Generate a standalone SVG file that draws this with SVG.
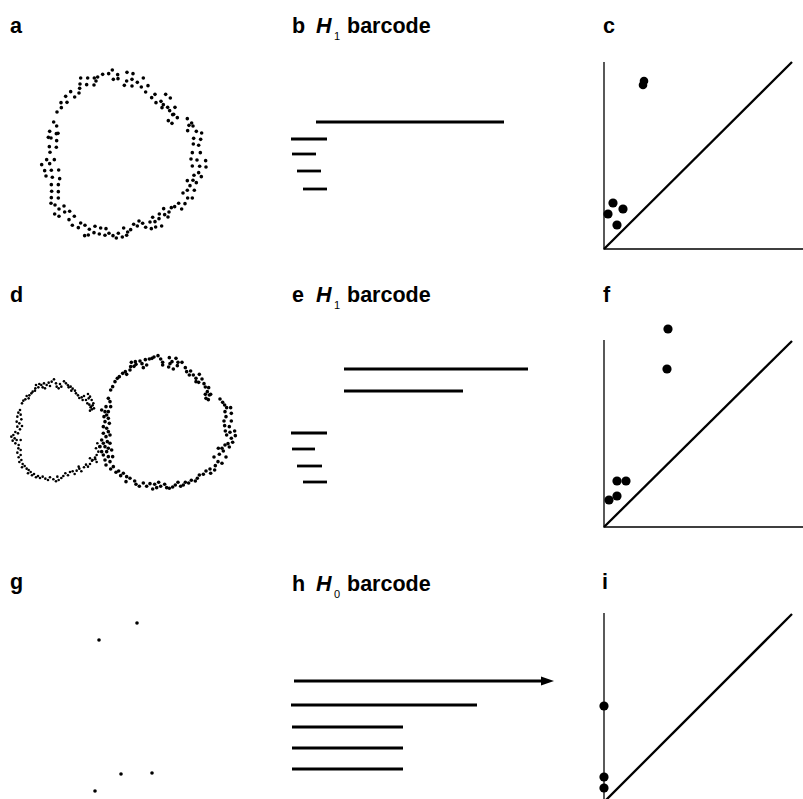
<svg xmlns="http://www.w3.org/2000/svg" xmlns:xlink="http://www.w3.org/1999/xlink" width="803" height="799" viewBox="0 0 803 799">
<defs>
<style>
.lbl{font-family:"Liberation Sans",Arial,sans-serif;font-weight:bold;font-size:21.5px;fill:#000}
.hv{font-family:"Liberation Sans",Arial,sans-serif;font-weight:bold;font-style:italic;font-size:21.5px;fill:#000}
.sub{font-family:"Liberation Sans",Arial,sans-serif;font-size:11px;fill:#000}
.bar{stroke:#000;stroke-width:2.8;fill:none}
.axis{stroke:#000;stroke-width:1.3;fill:none}
.diag{stroke:#000;stroke-width:2.3;fill:none}
.pt{fill:#000}
.d circle{fill:#000;r:5.4px}
.s circle{fill:#000;r:3.9px}
</style>
<marker id="arrow" markerWidth="14" markerHeight="10" refX="0" refY="5" orient="auto" markerUnits="userSpaceOnUse">
<path d="M0,0.5 L13,5 L0,9.5 Z" fill="#000"/>
</marker>
</defs>
<rect width="803" height="799" fill="#fff"/>

<!-- panel labels -->
<g id="labels">
<text class="lbl" x="10" y="33">a</text>
<text class="lbl" x="292" y="33">b</text>
<text class="hv" x="316" y="33">H</text><text class="sub" x="334" y="40">1</text>
<text class="lbl" x="347" y="33">barcode</text>
<text class="lbl" x="603" y="33">c</text>
<text class="lbl" x="10" y="302">d</text>
<text class="lbl" x="292" y="302">e</text>
<text class="hv" x="316" y="302">H</text><text class="sub" x="334" y="309">1</text>
<text class="lbl" x="347" y="302">barcode</text>
<text class="lbl" x="603" y="302">f</text>
<text class="lbl" x="10" y="589">g</text>
<text class="lbl" x="292" y="591">h</text>
<text class="hv" x="316" y="591">H</text><text class="sub" x="334" y="598">0</text>
<text class="lbl" x="347" y="591">barcode</text>
<text class="lbl" x="602" y="589">i</text>
</g>

<!-- a: noisy circle point cloud -->
<g id="cloud-a" transform="translate(35,62) scale(0.3333)" class="d">
<circle cx="232" cy="24" r="5.4"/><circle cx="221" cy="35" r="5.4"/><circle cx="203" cy="37" r="5.4"/><circle cx="188" cy="45" r="5.4"/><circle cx="178" cy="48" r="5.4"/><circle cx="183" cy="57" r="5.4"/><circle cx="177" cy="69" r="5.4"/><circle cx="158" cy="48" r="5.4"/><circle cx="155" cy="68" r="5.4"/><circle cx="137" cy="48" r="5.4"/><circle cx="135" cy="66" r="5.4"/><circle cx="134" cy="79" r="5.4"/><circle cx="132" cy="93" r="5.4"/><circle cx="119" cy="105" r="5.4"/><circle cx="107" cy="89" r="5.4"/><circle cx="92" cy="103" r="5.4"/><circle cx="96" cy="121" r="5.4"/><circle cx="78" cy="122" r="5.4"/><circle cx="79" cy="137" r="5.4"/><circle cx="66" cy="150" r="5.4"/>
<circle cx="248" cy="38" r="5.4"/><circle cx="249" cy="50" r="5.4"/><circle cx="235" cy="52" r="5.4"/><circle cx="276" cy="31" r="5.4"/><circle cx="294" cy="35" r="5.4"/><circle cx="291" cy="52" r="5.4"/><circle cx="275" cy="57" r="5.4"/><circle cx="268" cy="70" r="5.4"/><circle cx="291" cy="72" r="5.4"/><circle cx="307" cy="61" r="5.4"/><circle cx="325" cy="48" r="5.4"/><circle cx="319" cy="75" r="5.4"/><circle cx="339" cy="71" r="5.4"/><circle cx="332" cy="90" r="5.4"/><circle cx="360" cy="97" r="5.4"/><circle cx="350" cy="107" r="5.4"/><circle cx="392" cy="97" r="5.4"/><circle cx="406" cy="108" r="5.4"/><circle cx="378" cy="118" r="5.4"/><circle cx="363" cy="122" r="5.4"/><circle cx="385" cy="128" r="5.4"/><circle cx="381" cy="137" r="5.4"/><circle cx="398" cy="136" r="5.4"/><circle cx="420" cy="136" r="5.4"/><circle cx="404" cy="146" r="5.4"/><circle cx="416" cy="157" r="5.4"/><circle cx="427" cy="167" r="5.4"/><circle cx="413" cy="158" r="5.4"/><circle cx="400" cy="176" r="5.4"/><circle cx="411" cy="184" r="5.4"/>
<circle cx="457" cy="170" r="5.4"/><circle cx="470" cy="183" r="5.4"/><circle cx="474" cy="192" r="5.4"/><circle cx="462" cy="190" r="5.4"/><circle cx="458" cy="206" r="5.4"/><circle cx="484" cy="208" r="5.4"/><circle cx="500" cy="213" r="5.4"/><circle cx="476" cy="229" r="5.4"/><circle cx="497" cy="232" r="5.4"/><circle cx="475" cy="246" r="5.4"/><circle cx="491" cy="250" r="5.4"/><circle cx="472" cy="272" r="5.4"/><circle cx="496" cy="272" r="5.4"/><circle cx="468" cy="291" r="5.4"/><circle cx="486" cy="294" r="5.4"/><circle cx="512" cy="296" r="5.4"/><circle cx="472" cy="312" r="5.4"/><circle cx="494" cy="313" r="5.4"/><circle cx="513" cy="315" r="5.4"/><circle cx="491" cy="332" r="5.4"/><circle cx="477" cy="340" r="5.4"/><circle cx="499" cy="344" r="5.4"/><circle cx="457" cy="356" r="5.4"/><circle cx="474" cy="355" r="5.4"/><circle cx="484" cy="362" r="5.4"/><circle cx="465" cy="371" r="5.4"/><circle cx="457" cy="385" r="5.4"/><circle cx="478" cy="385" r="5.4"/><circle cx="444" cy="393" r="5.4"/><circle cx="458" cy="408" r="5.4"/><circle cx="472" cy="408" r="5.4"/><circle cx="431" cy="424" r="5.4"/><circle cx="450" cy="425" r="5.4"/><circle cx="440" cy="441" r="5.4"/><circle cx="419" cy="434" r="5.4"/><circle cx="409" cy="437" r="5.4"/><circle cx="402" cy="450" r="5.4"/><circle cx="386" cy="440" r="5.4"/><circle cx="373" cy="456" r="5.4"/><circle cx="389" cy="458" r="5.4"/><circle cx="399" cy="465" r="5.4"/><circle cx="353" cy="466" r="5.4"/><circle cx="372" cy="470" r="5.4"/><circle cx="360" cy="479" r="5.4"/><circle cx="345" cy="480" r="5.4"/><circle cx="380" cy="492" r="5.4"/><circle cx="362" cy="495" r="5.4"/><circle cx="349" cy="500" r="5.4"/><circle cx="332" cy="496" r="5.4"/><circle cx="323" cy="484" r="5.4"/><circle cx="312" cy="477" r="5.4"/><circle cx="307" cy="492" r="5.4"/><circle cx="296" cy="487" r="5.4"/><circle cx="287" cy="503" r="5.4"/><circle cx="278" cy="510" r="5.4"/><circle cx="266" cy="498" r="5.4"/><circle cx="275" cy="520" r="5.4"/><circle cx="262" cy="525" r="5.4"/><circle cx="250" cy="514" r="5.4"/><circle cx="244" cy="528" r="5.4"/><circle cx="234" cy="521" r="5.4"/><circle cx="222" cy="514" r="5.4"/><circle cx="213" cy="500" r="5.4"/><circle cx="210" cy="520" r="5.4"/><circle cx="197" cy="498" r="5.4"/><circle cx="193" cy="516" r="5.4"/><circle cx="180" cy="493" r="5.4"/><circle cx="177" cy="512" r="5.4"/><circle cx="163" cy="502" r="5.4"/><circle cx="160" cy="519" r="5.4"/><circle cx="150" cy="490" r="5.4"/><circle cx="149" cy="521" r="5.4"/><circle cx="130" cy="497" r="5.4"/><circle cx="137" cy="483" r="5.4"/><circle cx="118" cy="463" r="5.4"/><circle cx="112" cy="490" r="5.4"/><circle cx="102" cy="473" r="5.4"/><circle cx="104" cy="448" r="5.4"/><circle cx="89" cy="450" r="5.4"/><circle cx="87" cy="432" r="5.4"/><circle cx="72" cy="441" r="5.4"/><circle cx="72" cy="463" r="5.4"/><circle cx="59" cy="456" r="5.4"/><circle cx="60" cy="429" r="5.4"/><circle cx="48" cy="424" r="5.4"/><circle cx="70" cy="408" r="5.4"/><circle cx="49" cy="407" r="5.4"/><circle cx="70" cy="389" r="5.4"/><circle cx="50" cy="388" r="5.4"/><circle cx="49" cy="368" r="5.4"/><circle cx="70" cy="368" r="5.4"/>
<circle cx="74" cy="350" r="5.4"/><circle cx="52" cy="346" r="5.4"/><circle cx="33" cy="342" r="5.4"/><circle cx="71" cy="324" r="5.4"/><circle cx="49" cy="325" r="5.4"/><circle cx="29" cy="326" r="5.4"/><circle cx="44" cy="305" r="5.4"/><circle cx="20" cy="308" r="5.4"/><circle cx="35" cy="293" r="5.4"/><circle cx="58" cy="293" r="5.4"/><circle cx="45" cy="271" r="5.4"/><circle cx="64" cy="256" r="5.4"/><circle cx="43" cy="254" r="5.4"/><circle cx="65" cy="236" r="5.4"/><circle cx="48" cy="228" r="5.4"/><circle cx="40" cy="226" r="5.4"/><circle cx="64" cy="215" r="5.4"/><circle cx="69" cy="214" r="5.4"/><circle cx="44" cy="208" r="5.4"/><circle cx="65" cy="192" r="5.4"/><circle cx="56" cy="180" r="5.4"/>
</g>

<!-- b: H1 barcode -->
<g id="barcode-b" class="bar">
<line x1="316" y1="122" x2="504" y2="122"/>
<line x1="291" y1="139" x2="327" y2="139"/>
<line x1="292" y1="154" x2="316" y2="154"/>
<line x1="297" y1="171" x2="321" y2="171"/>
<line x1="303" y1="189" x2="327" y2="189"/>
</g>

<!-- c: persistence diagram -->
<g id="diagram-c">
<path class="axis" d="M604,62 V249 H803"/>
<line class="diag" x1="604" y1="249" x2="792" y2="62"/>
<g class="pt">
<circle cx="644" cy="81" r="4.3"/><circle cx="643" cy="85" r="4.3"/>
<circle cx="613" cy="203" r="4.6"/><circle cx="623" cy="209" r="4.6"/><circle cx="608" cy="214" r="4.6"/><circle cx="617" cy="225" r="4.6"/>
</g>
</g>

<!-- d: two overlapping noisy circles -->
<g id="cloud-d-left" transform="translate(0,370) scale(0.3333)" class="s">
<circle cx="162" cy="28" r="3.9"/><circle cx="155" cy="35" r="3.9"/><circle cx="146" cy="38" r="3.9"/><circle cx="140" cy="45" r="3.9"/><circle cx="150" cy="48" r="3.9"/><circle cx="132" cy="40" r="3.9"/><circle cx="124" cy="45" r="3.9"/><circle cx="118" cy="42" r="3.9"/><circle cx="108" cy="45" r="3.9"/><circle cx="106" cy="55" r="3.9"/><circle cx="115" cy="52" r="3.9"/><circle cx="128" cy="52" r="3.9"/><circle cx="135" cy="55" r="3.9"/><circle cx="98" cy="65" r="3.9"/><circle cx="105" cy="62" r="3.9"/><circle cx="94" cy="70" r="3.9"/><circle cx="88" cy="76" r="3.9"/><circle cx="80" cy="78" r="3.9"/><circle cx="86" cy="85" r="3.9"/><circle cx="76" cy="88" r="3.9"/><circle cx="70" cy="92" r="3.9"/><circle cx="66" cy="100" r="3.9"/><circle cx="168" cy="40" r="3.9"/><circle cx="170" cy="50" r="3.9"/><circle cx="180" cy="42" r="3.9"/><circle cx="184" cy="50" r="3.9"/><circle cx="176" cy="55" r="3.9"/><circle cx="192" cy="34" r="3.9"/><circle cx="198" cy="40" r="3.9"/><circle cx="204" cy="46" r="3.9"/><circle cx="206" cy="52" r="3.9"/><circle cx="212" cy="50" r="3.9"/><circle cx="218" cy="56" r="3.9"/><circle cx="214" cy="62" r="3.9"/><circle cx="225" cy="62" r="3.9"/><circle cx="228" cy="70" r="3.9"/><circle cx="234" cy="76" r="3.9"/><circle cx="238" cy="84" r="3.9"/><circle cx="245" cy="82" r="3.9"/><circle cx="248" cy="90" r="3.9"/><circle cx="252" cy="78" r="3.9"/><circle cx="258" cy="90" r="3.9"/><circle cx="264" cy="72" r="3.9"/><circle cx="266" cy="85" r="3.9"/><circle cx="262" cy="100" r="3.9"/><circle cx="268" cy="104" r="3.9"/><circle cx="272" cy="112" r="3.9"/><circle cx="278" cy="106" r="3.9"/><circle cx="270" cy="122" r="3.9"/><circle cx="276" cy="118" r="3.9"/>
<circle cx="60" cy="120" r="3.9"/><circle cx="55" cy="128" r="3.9"/><circle cx="62" cy="134" r="3.9"/><circle cx="52" cy="140" r="3.9"/><circle cx="64" cy="148" r="3.9"/><circle cx="50" cy="155" r="3.9"/><circle cx="58" cy="160" r="3.9"/><circle cx="66" cy="168" r="3.9"/><circle cx="52" cy="170" r="3.9"/><circle cx="60" cy="178" r="3.9"/><circle cx="46" cy="186" r="3.9"/><circle cx="54" cy="190" r="3.9"/><circle cx="40" cy="195" r="3.9"/><circle cx="34" cy="200" r="3.9"/><circle cx="44" cy="205" r="3.9"/><circle cx="50" cy="210" r="3.9"/><circle cx="38" cy="212" r="3.9"/><circle cx="46" cy="220" r="3.9"/><circle cx="56" cy="225" r="3.9"/><circle cx="62" cy="210" r="3.9"/><circle cx="55" cy="235" r="3.9"/><circle cx="62" cy="240" r="3.9"/><circle cx="52" cy="248" r="3.9"/><circle cx="62" cy="255" r="3.9"/><circle cx="56" cy="262" r="3.9"/><circle cx="64" cy="270" r="3.9"/><circle cx="58" cy="276" r="3.9"/><circle cx="68" cy="282" r="3.9"/><circle cx="74" cy="288" r="3.9"/><circle cx="66" cy="292" r="3.9"/><circle cx="80" cy="296" r="3.9"/><circle cx="86" cy="300" r="3.9"/><circle cx="92" cy="306" r="3.9"/><circle cx="84" cy="310" r="3.9"/><circle cx="96" cy="316" r="3.9"/><circle cx="102" cy="312" r="3.9"/><circle cx="108" cy="322" r="3.9"/><circle cx="114" cy="318" r="3.9"/><circle cx="120" cy="324" r="3.9"/><circle cx="128" cy="320" r="3.9"/><circle cx="136" cy="326" r="3.9"/><circle cx="144" cy="330" r="3.9"/><circle cx="150" cy="322" r="3.9"/><circle cx="160" cy="328" r="3.9"/><circle cx="168" cy="334" r="3.9"/><circle cx="176" cy="330" r="3.9"/><circle cx="184" cy="324" r="3.9"/><circle cx="172" cy="320" r="3.9"/><circle cx="190" cy="318" r="3.9"/><circle cx="196" cy="310" r="3.9"/><circle cx="204" cy="316" r="3.9"/><circle cx="210" cy="306" r="3.9"/><circle cx="218" cy="304" r="3.9"/><circle cx="224" cy="312" r="3.9"/><circle cx="230" cy="302" r="3.9"/><circle cx="238" cy="296" r="3.9"/><circle cx="244" cy="304" r="3.9"/><circle cx="236" cy="290" r="3.9"/><circle cx="252" cy="292" r="3.9"/><circle cx="258" cy="284" r="3.9"/><circle cx="264" cy="290" r="3.9"/><circle cx="270" cy="282" r="3.9"/><circle cx="276" cy="272" r="3.9"/><circle cx="286" cy="268" r="3.9"/><circle cx="290" cy="276" r="3.9"/>
</g>
<g id="cloud-d-right" transform="translate(90,345) scale(0.3333)">
<g class="s">
<circle cx="0" cy="155" r="3.9"/><circle cx="5" cy="165" r="3.9"/><circle cx="10" cy="175" r="3.9"/><circle cx="3" cy="185" r="3.9"/><circle cx="12" cy="190" r="3.9"/><circle cx="0" cy="340" r="3.9"/><circle cx="8" cy="345" r="3.9"/><circle cx="15" cy="338" r="3.9"/><circle cx="20" cy="330" r="3.9"/><circle cx="25" cy="320" r="3.9"/><circle cx="18" cy="310" r="3.9"/><circle cx="28" cy="305" r="3.9"/><circle cx="22" cy="295" r="3.9"/>
</g>
<g class="d">
<circle cx="55" cy="160" r="5.4"/><circle cx="60" cy="170" r="5.4"/><circle cx="48" cy="185" r="5.4"/><circle cx="62" cy="185" r="5.4"/><circle cx="35" cy="195" r="5.4"/><circle cx="45" cy="200" r="5.4"/><circle cx="55" cy="200" r="5.4"/><circle cx="50" cy="210" r="5.4"/><circle cx="42" cy="215" r="5.4"/><circle cx="55" cy="220" r="5.4"/><circle cx="45" cy="230" r="5.4"/><circle cx="58" cy="235" r="5.4"/><circle cx="40" cy="245" r="5.4"/><circle cx="50" cy="250" r="5.4"/><circle cx="55" cy="260" r="5.4"/><circle cx="40" cy="265" r="5.4"/><circle cx="60" cy="270" r="5.4"/><circle cx="48" cy="275" r="5.4"/><circle cx="35" cy="285" r="5.4"/><circle cx="52" cy="290" r="5.4"/><circle cx="40" cy="295" r="5.4"/><circle cx="60" cy="295" r="5.4"/><circle cx="30" cy="305" r="5.4"/><circle cx="45" cy="305" r="5.4"/><circle cx="55" cy="310" r="5.4"/><circle cx="35" cy="320" r="5.4"/><circle cx="50" cy="320" r="5.4"/><circle cx="65" cy="315" r="5.4"/><circle cx="40" cy="330" r="5.4"/><circle cx="55" cy="335" r="5.4"/><circle cx="68" cy="335" r="5.4"/><circle cx="45" cy="345" r="5.4"/><circle cx="60" cy="350" r="5.4"/><circle cx="48" cy="360" r="5.4"/><circle cx="70" cy="365" r="5.4"/><circle cx="62" cy="372" r="5.4"/>
<circle cx="62" cy="135" r="5.4"/><circle cx="68" cy="125" r="5.4"/><circle cx="75" cy="110" r="5.4"/><circle cx="82" cy="100" r="5.4"/><circle cx="88" cy="95" r="5.4"/><circle cx="98" cy="85" r="5.4"/><circle cx="106" cy="80" r="5.4"/><circle cx="110" cy="88" r="5.4"/><circle cx="120" cy="75" r="5.4"/><circle cx="122" cy="65" r="5.4"/><circle cx="124" cy="52" r="5.4"/><circle cx="136" cy="50" r="5.4"/><circle cx="132" cy="64" r="5.4"/><circle cx="138" cy="58" r="5.4"/><circle cx="150" cy="48" r="5.4"/><circle cx="156" cy="56" r="5.4"/><circle cx="166" cy="44" r="5.4"/><circle cx="160" cy="68" r="5.4"/><circle cx="170" cy="60" r="5.4"/><circle cx="178" cy="42" r="5.4"/><circle cx="186" cy="40" r="5.4"/><circle cx="192" cy="36" r="5.4"/><circle cx="204" cy="32" r="5.4"/><circle cx="212" cy="42" r="5.4"/><circle cx="218" cy="52" r="5.4"/><circle cx="218" cy="60" r="5.4"/><circle cx="238" cy="38" r="5.4"/><circle cx="246" cy="50" r="5.4"/><circle cx="236" cy="66" r="5.4"/><circle cx="240" cy="56" r="5.4"/><circle cx="250" cy="72" r="5.4"/><circle cx="258" cy="40" r="5.4"/><circle cx="262" cy="62" r="5.4"/><circle cx="264" cy="52" r="5.4"/><circle cx="276" cy="52" r="5.4"/><circle cx="286" cy="68" r="5.4"/><circle cx="290" cy="80" r="5.4"/><circle cx="302" cy="78" r="5.4"/><circle cx="298" cy="90" r="5.4"/><circle cx="310" cy="90" r="5.4"/><circle cx="318" cy="100" r="5.4"/><circle cx="328" cy="88" r="5.4"/><circle cx="336" cy="102" r="5.4"/><circle cx="326" cy="112" r="5.4"/><circle cx="318" cy="110" r="5.4"/><circle cx="342" cy="116" r="5.4"/><circle cx="346" cy="126" r="5.4"/><circle cx="356" cy="128" r="5.4"/><circle cx="352" cy="140" r="5.4"/><circle cx="346" cy="148" r="5.4"/><circle cx="358" cy="150" r="5.4"/><circle cx="348" cy="160" r="5.4"/><circle cx="355" cy="164" r="5.4"/><circle cx="362" cy="148" r="5.4"/>
<circle cx="390" cy="162" r="5.4"/><circle cx="398" cy="172" r="5.4"/><circle cx="404" cy="180" r="5.4"/><circle cx="410" cy="188" r="5.4"/><circle cx="422" cy="188" r="5.4"/><circle cx="405" cy="200" r="5.4"/><circle cx="424" cy="205" r="5.4"/><circle cx="408" cy="215" r="5.4"/><circle cx="402" cy="228" r="5.4"/><circle cx="424" cy="228" r="5.4"/><circle cx="404" cy="242" r="5.4"/><circle cx="418" cy="245" r="5.4"/><circle cx="406" cy="258" r="5.4"/><circle cx="420" cy="262" r="5.4"/><circle cx="434" cy="258" r="5.4"/><circle cx="410" cy="270" r="5.4"/><circle cx="436" cy="272" r="5.4"/><circle cx="424" cy="280" r="5.4"/><circle cx="414" cy="296" r="5.4"/><circle cx="428" cy="292" r="5.4"/><circle cx="405" cy="300" r="5.4"/><circle cx="418" cy="306" r="5.4"/><circle cx="396" cy="310" r="5.4"/><circle cx="385" cy="310" r="5.4"/><circle cx="400" cy="318" r="5.4"/><circle cx="388" cy="328" r="5.4"/><circle cx="408" cy="336" r="5.4"/><circle cx="372" cy="336" r="5.4"/><circle cx="384" cy="350" r="5.4"/><circle cx="396" cy="355" r="5.4"/><circle cx="376" cy="362" r="5.4"/><circle cx="360" cy="372" r="5.4"/><circle cx="374" cy="375" r="5.4"/><circle cx="348" cy="378" r="5.4"/><circle cx="362" cy="385" r="5.4"/><circle cx="340" cy="388" r="5.4"/><circle cx="328" cy="390" r="5.4"/><circle cx="322" cy="400" r="5.4"/><circle cx="316" cy="408" r="5.4"/><circle cx="304" cy="406" r="5.4"/><circle cx="296" cy="414" r="5.4"/><circle cx="286" cy="412" r="5.4"/><circle cx="280" cy="420" r="5.4"/><circle cx="272" cy="424" r="5.4"/><circle cx="264" cy="412" r="5.4"/><circle cx="256" cy="420" r="5.4"/><circle cx="248" cy="426" r="5.4"/><circle cx="238" cy="430" r="5.4"/><circle cx="230" cy="428" r="5.4"/><circle cx="224" cy="418" r="5.4"/><circle cx="212" cy="424" r="5.4"/><circle cx="206" cy="412" r="5.4"/><circle cx="200" cy="428" r="5.4"/><circle cx="194" cy="418" r="5.4"/><circle cx="188" cy="432" r="5.4"/><circle cx="180" cy="416" r="5.4"/><circle cx="170" cy="424" r="5.4"/><circle cx="160" cy="414" r="5.4"/><circle cx="148" cy="424" r="5.4"/><circle cx="138" cy="418" r="5.4"/><circle cx="134" cy="408" r="5.4"/><circle cx="120" cy="400" r="5.4"/><circle cx="108" cy="410" r="5.4"/><circle cx="110" cy="395" r="5.4"/><circle cx="100" cy="385" r="5.4"/><circle cx="92" cy="392" r="5.4"/><circle cx="86" cy="378" r="5.4"/><circle cx="78" cy="382" r="5.4"/>
</g>
</g>

<!-- e: H1 barcode -->
<g id="barcode-e" class="bar">
<line x1="344" y1="369" x2="528" y2="369"/>
<line x1="344" y1="391" x2="463" y2="391"/>
<line x1="291" y1="433" x2="327" y2="433"/>
<line x1="292" y1="449" x2="315" y2="449"/>
<line x1="297" y1="466" x2="322" y2="466"/>
<line x1="303" y1="482" x2="327" y2="482"/>
</g>

<!-- f: persistence diagram -->
<g id="diagram-f">
<path class="axis" d="M604,340 V527 H803"/>
<line class="diag" x1="604" y1="527" x2="792" y2="341"/>
<g class="pt">
<circle cx="668" cy="329" r="4.6"/><circle cx="667" cy="369" r="4.6"/>
<circle cx="617" cy="481" r="4.6"/><circle cx="626" cy="481" r="4.6"/><circle cx="617" cy="496" r="4.6"/><circle cx="609" cy="500" r="4.6"/>
</g>
</g>

<!-- g: five isolated points -->
<g id="cloud-g" class="pt">
<circle cx="137" cy="623" r="1.8"/><circle cx="99" cy="640" r="1.8"/>
<circle cx="121" cy="774" r="1.8"/><circle cx="152" cy="773" r="1.8"/><circle cx="95" cy="791" r="1.8"/>
</g>

<!-- h: H0 barcode -->
<g id="barcode-h" class="bar">
<line x1="294" y1="681" x2="541" y2="681" marker-end="url(#arrow)"/>
<line x1="291" y1="705" x2="477" y2="705"/>
<line x1="292" y1="727" x2="403" y2="727"/>
<line x1="292" y1="748" x2="403" y2="748"/>
<line x1="292" y1="769" x2="403" y2="769"/>
</g>

<!-- i: persistence diagram -->
<g id="diagram-i">
<line class="axis" x1="604" y1="613" x2="604" y2="799"/>
<line class="diag" x1="604" y1="802" x2="792" y2="614"/>
<g class="pt">
<circle cx="604" cy="706" r="4.6"/><circle cx="604" cy="777" r="4.6"/><circle cx="604" cy="788" r="4.6"/>
</g>
</g>
</svg>
